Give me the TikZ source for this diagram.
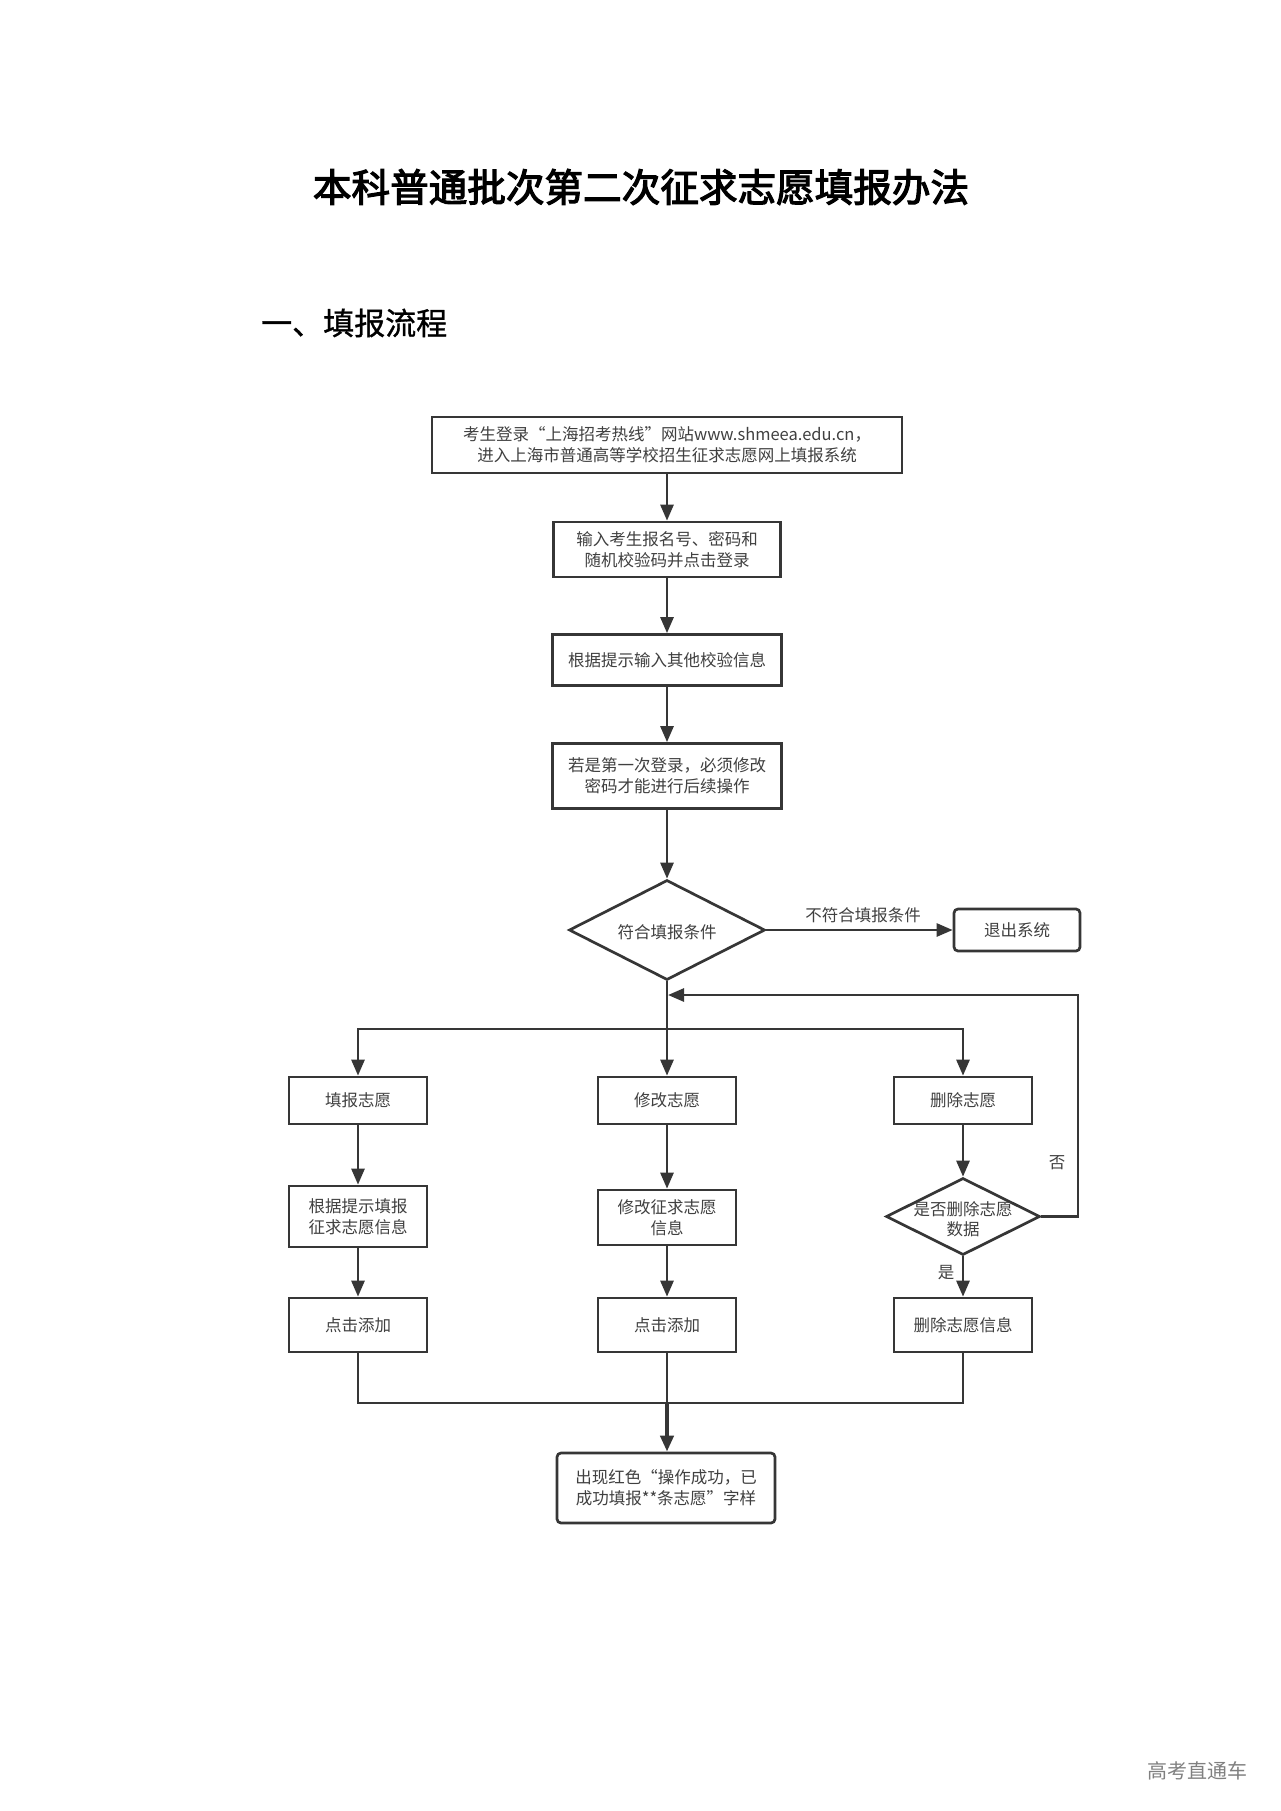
\documentclass[tikz,border=0pt]{standalone}
\usepackage{fontspec}
\setmainfont{Noto Sans CJK SC}
\newfontfamily\cjkreg{Noto Sans CJK SC}
\newfontfamily\cjkbold{Noto Sans CJK SC}[FakeBold=3]
\newfontfamily\cjkmed{Noto Sans CJK SC}[FakeBold=1]
\usetikzlibrary{shapes.geometric,arrows.meta}
\definecolor{lc}{HTML}{363636}
\definecolor{tc}{HTML}{404040}
\definecolor{wm}{HTML}{808080}
\newcommand\myboxfont{\cjkreg\fontsize{16.5}{21}\selectfont}
\newcommand\mytitlefont{\cjkbold\fontsize{38.6}{44}\selectfont}
\newcommand\myheadfont{\cjkmed\fontsize{31}{36}\selectfont}
\newcommand\mywmfont{\cjkreg\fontsize{20}{24}\selectfont}
\begin{document}
\begin{tikzpicture}[x=1pt,y=-1pt,
  ln/.style={draw=lc, line width=2.7pt},
  arr/.style={ln, -{Triangle[length=16pt,width=13pt]}},
  box/.style={draw=lc, line width=2.7pt, fill=white, align=center, inner sep=0pt, text=tc, font=\myboxfont},
  rbox/.style={box, rounded corners=4pt},
  dia/.style={draw=lc, line width=2.7pt, fill=white, diamond, inner sep=0pt},
  txt/.style={align=center, text=tc, font=\myboxfont, inner sep=0pt},
]
\fill[white] (0,0) rectangle (1280,1811);
\useasboundingbox (0,0) rectangle (1280,1811);

% title and heading
\node[font=\mytitlefont, text=black] (title) at (641,187) {本科普通批次第二次征求志愿填报办法};
\node[font=\myheadfont, text=black, anchor=west, inner sep=0pt] (head) at (261,323) {一、填报流程};

% main column
\node[box, minimum width=470pt, minimum height=56pt] (b1) at (667,445) {考生登录“上海招考热线”网站www.shmeea.edu.cn，\\进入上海市普通高等学校招生征求志愿网上填报系统};
\node[box, minimum width=227pt, minimum height=55pt] (b2) at (667,549.5) {输入考生报名号、密码和\\随机校验码并点击登录};
\node[box, minimum width=229pt, minimum height=51pt] (b3) at (667,660) {根据提示输入其他校验信息};
\node[box, minimum width=229pt, minimum height=65pt] (b4) at (667,776) {若是第一次登录，必须修改\\密码才能进行后续操作};
\node[dia, minimum width=196pt, minimum height=100pt] (d1) at (667,930) {};
\node[txt] (d1t) at (667,932) {符合填报条件};
\node[rbox, minimum width=126pt, minimum height=42pt] (exit) at (1017,930) {退出系统};
\node[txt] (l1) at (863,915) {不符合填报条件};

\draw[arr] (b1.south) -- (b2.north);
\draw[arr] (b2.south) -- (b3.north);
\draw[arr] (b3.south) -- (b4.north);
\draw[arr] (b4.south) -- (d1.north);
\draw[arr] (d1.east) -- (exit.west);

% branch
\coordinate (brj) at (667,1029);
\draw[ln] (d1.south) -- (brj);

% row 1
\node[box, minimum width=138pt, minimum height=47pt] (f1) at (358,1100.5) {填报志愿};
\node[box, minimum width=138pt, minimum height=47pt] (m1) at (667,1100.5) {修改志愿};
\node[box, minimum width=138pt, minimum height=47pt] (r1) at (963,1100.5) {删除志愿};

\draw[arr] (brj) -| (f1.north);
\draw[arr] (brj) -| (r1.north);
\draw[arr] (brj) -- (m1.north);

% row 2
\node[box, minimum width=138pt, minimum height=61pt] (f2) at (358,1216.5) {根据提示填报\\征求志愿信息};
\node[box, minimum width=138pt, minimum height=55pt] (m2) at (667,1217.5) {修改征求志愿\\信息};
\node[dia, minimum width=154pt, minimum height=77pt] (d2) at (963,1216.5) {};
\node[txt, font=\cjkreg\fontsize{16.5}{20}\selectfont] (d2t) at (963,1219) {是否删除志愿\\数据};

% row 3
\node[box, minimum width=138pt, minimum height=54pt] (f3) at (358,1325) {点击添加};
\node[box, minimum width=138pt, minimum height=54pt] (m3) at (667,1325) {点击添加};
\node[box, minimum width=138pt, minimum height=54pt] (r3) at (963,1325) {删除志愿信息};

\draw[arr] (f1.south) -- (f2.north);
\draw[arr] (f2.south) -- (f3.north);
\draw[arr] (m1.south) -- (m2.north);
\draw[arr] (m2.south) -- (m3.north);
\draw[arr] (r1.south) -- (d2.north);
\draw[arr] (d2.south) -- (r3.north);

% loop back (no)
\coordinate (lpr) at (1078,995);
\coordinate (lp) at (668,995);
\draw[arr] (d2.east) -| (lpr) -- (lp);
\node[txt] (no) at (1057,1163) {否};
\node[txt] (yes) at (946,1273) {是};

% join and final
\coordinate (jm) at (667,1403);
\node[rbox, minimum width=218pt, minimum height=70pt] (fin) at (666,1488) {出现红色“操作成功，已\\成功填报**条志愿”字样};
\draw[ln] (f3.south) |- (jm);
\draw[ln] (r3.south) |- (jm);
\draw[ln] (m3.south) -- (jm);
\draw[arr, line width=4.5pt] (jm) -- (fin.north -| jm);

% watermark
\node[font=\mywmfont, text=wm] (wmk) at (1197,1771) {高考直通车};
\end{tikzpicture}
\end{document}
